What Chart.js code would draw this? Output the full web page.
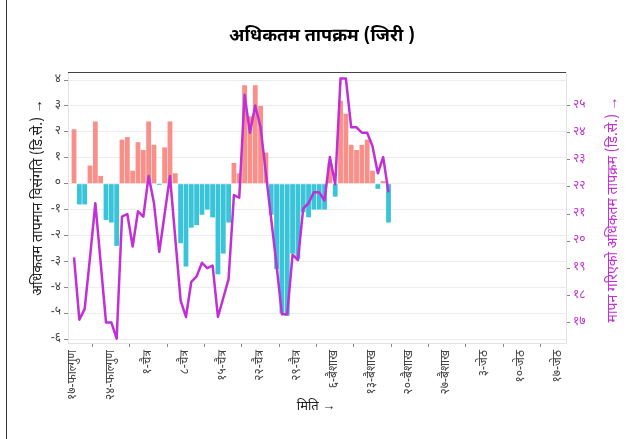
<!DOCTYPE html>
<html>
<head>
<meta charset="utf-8">
<script src="https://cdn.jsdelivr.net/npm/chart.js@4"></script>
<style>
  html, body { margin: 0; padding: 0; background: #fff; }
  #wrap { position: relative; width: 630px; height: 439px; }
  #edge { position: absolute; left: 6px; top: 0; width: 1px; height: 439px; background: #333; }
</style>
</head>
<body>
<div id="wrap">
  <canvas id="chart" width="630" height="439"></canvas>
  <div id="edge"></div>
</div>
<script>
"use strict";

// months on the x axis: name, first day, last day
const MONTHS = [
  ['फाल्गुण', 17, 30],
  ['चैत्र', 1, 30],
  ['बैशाख', 1, 31],
  ['जेठ', 1, 17]
];

// daily max temperature anomaly (deg C), from 17 Falgun
const ANOMALY = [
  2.1, -0.8, -0.8, 0.7, 2.4, 0.3, -1.4, -1.5, -2.4, 1.7,
  1.8, 0.5, 1.6, 1.3, 2.4, 1.5, -0.05, 1.4, 2.4, 0.4,
  -2.3, -3.2, -1.7, -1.6, -1.2, -1.0, -1.3, -3.5, -2.7, -1.5,
  0.8, 0.4, 3.8, 2.6, 3.8, 3.0, 1.2, -1.2, -3.3, -5.0,
  -5.1, -2.7, -2.9, -1.1, -1.3, -1.0, -1.0, -1.0, 0.8, -0.5,
  3.2, 2.7, 1.5, 1.3, 1.5, 1.7, 0.5, -0.2, 0.1, -1.5
];

// measured daily max temperature (deg C)
const MEASURED = [
  19.4, 17.1, 17.5, 19.4, 21.4, 19.2, 17.0, 17.0, 16.4, 20.9,
  21.0, 19.8, 21.1, 20.9, 22.4, 21.4, 19.6, 21.0, 22.4, 20.1,
  17.8, 17.2, 18.5, 18.7, 19.2, 19.0, 19.1, 17.2, 17.9, 18.6,
  21.7, 21.6, 25.4, 24.0, 25.0, 24.2, 22.5, 20.8, 19.1, 17.3,
  17.3, 19.5, 19.3, 21.2, 21.4, 21.8, 21.8, 21.5, 23.1, 22.1,
  26.0, 26.0, 24.2, 24.2, 24.0, 24.0, 23.5, 22.5, 23.1, 21.8
];

const LEFT_TICKS = [-6, -5, -4, -3, -2, -1, 0, 1, 2, 3, 4];
const RIGHT_TICKS = [17, 18, 19, 20, 21, 22, 23, 24, 25];
const TICK_EVERY = 7;

const TITLE = 'अधिकतम तापक्रम (जिरी )';
const X_TITLE = 'मिति →';
const Y_TITLE = 'अधिकतम तापमान विसंगति (डि.से.) →';
const Y2_TITLE = 'मापन गरिएको अधिकतम तापक्रम (डि.से.) →';

const FONT = "'Noto Sans Devanagari', 'Noto Sans', sans-serif";
const RED = '#F98F89';
const BLUE = '#3AC4D9';
const MAGENTA = '#C12FD6';
const DIGITS = '०१२३४५६७८९';

function toNepali(n) {
  return String(n).replace(/\d/g, d => DIGITS[d]);
}

let dates = [];
MONTHS.forEach(([name, from, to]) => {
  for (let d = from; d <= to; d++) dates.push(toNepali(d) + '-' + name);
});

function fixTicks(values) {
  return axis => { axis.ticks = values.map(v => ({ value: v })); };
}

const dateTicks = dates.map((d, i) => i).filter(i => i % TICK_EVERY === 0);

const textPlugin = {
  id: 'textPlugin',
  afterDraw(chart) {
    const ctx = chart.ctx;
    const a = chart.chartArea;
    const midX = (a.left + a.right) / 2;
    ctx.save();

    // dark line on top of the panel
    ctx.strokeStyle = '#444';
    ctx.lineWidth = 1;
    ctx.beginPath();
    ctx.moveTo(a.left, a.top + 0.5);
    ctx.lineTo(a.right, a.top + 0.5);
    ctx.stroke();

    ctx.textAlign = 'center';
    ctx.textBaseline = 'middle';

    ctx.fillStyle = '#000';
    ctx.font = 'bold 18px ' + FONT;
    ctx.fillText(TITLE, midX + 5, 38);

    ctx.fillStyle = '#222';
    ctx.font = '13px ' + FONT;
    ctx.fillText(X_TITLE, midX - 1, 408);

    ctx.font = '14px ' + FONT;
    ctx.save();
    ctx.translate(39, (a.top + a.bottom) / 2 - 10);
    ctx.rotate(-Math.PI / 2);
    ctx.fillText(Y_TITLE, 0, 0);
    ctx.restore();

    ctx.fillStyle = MAGENTA;
    ctx.save();
    ctx.translate(614, (a.top + a.bottom) / 2 + 2);
    ctx.rotate(-Math.PI / 2);
    ctx.fillText(Y2_TITLE, 0, 0);
    ctx.restore();

    ctx.restore();
  }
};

Chart.defaults.font.family = FONT;

new Chart(document.getElementById('chart'), {
  type: 'bar',
  data: {
    datasets: [{
      type: 'line',
      data: MEASURED.map((v, i) => ({ x: i, y: v })),
      yAxisID: 'y2',
      borderColor: MAGENTA,
      borderWidth: 2.5,
      borderJoinStyle: 'round',
      pointRadius: 0,
      tension: 0,
      order: 0
    }, {
      data: ANOMALY.map((v, i) => ({ x: i, y: v })),
      yAxisID: 'y',
      backgroundColor: ANOMALY.map(v => v >= 0 ? RED : BLUE),
      barPercentage: 0.9,
      categoryPercentage: 1,
      order: 1
    }]
  },
  options: {
    responsive: false,
    animation: false,
    layout: { padding: { top: 72, left: 0, right: 0, bottom: 0 } },
    plugins: {
      legend: { display: false },
      tooltip: { enabled: false }
    },
    scales: {
      x: {
        type: 'linear',
        offset: false,
        min: -1.13,
        max: 92.3,
        afterBuildTicks: fixTicks(dateTicks),
        afterFit: s => { s.height = 96; },
        grid: { drawOnChartArea: false, drawTicks: true, tickLength: 4, tickColor: '#888' },
        border: { color: '#e3e3e3' },
        ticks: {
          autoSkip: false, minRotation: 90, maxRotation: 90, padding: 3,
          color: '#444', font: { size: 12 },
          callback: v => dates[v]
        }
      },
      y: {
        position: 'left',
        min: -6.15,
        max: 4.31,
        afterBuildTicks: fixTicks(LEFT_TICKS),
        afterFit: s => { s.width = 68; },
        grid: { color: '#ececec', tickLength: 4, tickColor: '#888' },
        border: { color: '#e3e3e3' },
        ticks: { padding: 3, color: '#444', font: { size: 12 }, callback: v => toNepali(v) }
      },
      y2: {
        position: 'right',
        min: 16.24,
        max: 26.24,
        afterBuildTicks: fixTicks(RIGHT_TICKS),
        afterFit: s => { s.width = 64; },
        grid: { drawOnChartArea: false, tickLength: 4, tickColor: '#888' },
        border: { color: '#e3e3e3' },
        ticks: { padding: 3, color: MAGENTA, font: { size: 12 }, callback: v => toNepali(v) }
      }
    }
  },
  plugins: [textPlugin]
});
</script>
</body>
</html>
